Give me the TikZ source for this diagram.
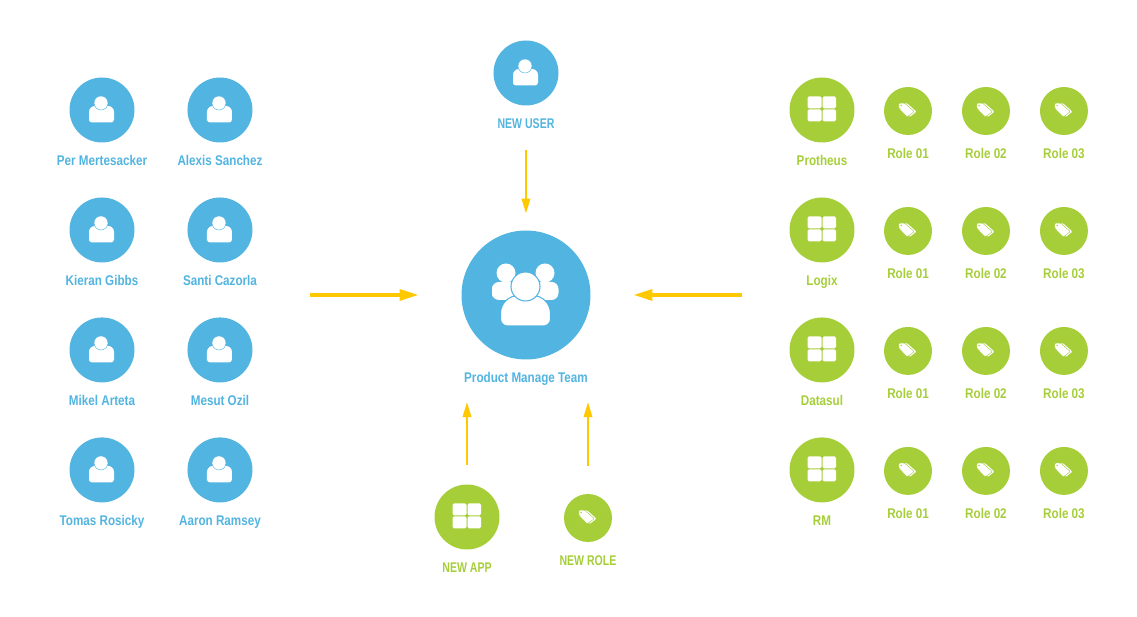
\documentclass[tikz,border=0pt]{standalone}
\usepackage{fontspec}
\setmainfont[FakeStretch=0.83]{Liberation Sans}
\newfontfamily\capsfont[FakeStretch=0.75]{Liberation Sans}
\usepackage{tikz}
\usetikzlibrary{arrows.meta, positioning}
\usepackage{xcolor}
\definecolor{userblue}{HTML}{52B4E0}
\definecolor{appgreen}{HTML}{A6CE39}
\definecolor{linkyellow}{HTML}{FFC800}

\begin{document}
\begin{tikzpicture}[
    x=0.02cm, y=-0.02cm,
    user/.style={circle, fill=userblue, inner sep=0pt, outer sep=0pt, minimum size=1.3cm, path picture={
        \begin{scope}[shift={(path picture bounding box.center)}]
            \fill[white, rounded corners=0.12cm] (-13,8) -- (-13,-4) -- (12,-4) [rounded corners=0.06cm] -- (12,12.5) -- (-13,12.5) -- cycle;
            \fill[white, draw=userblue, line width=0.25pt] (-1,-7) circle (7);
        \end{scope}}},
    team/.style={circle, fill=userblue, inner sep=0pt, outer sep=0pt, minimum size=2.58cm, path picture={
        \begin{scope}[shift={(path picture bounding box.center)}]
            \fill[white, rounded corners=0.14cm] (-34,-2) -- (-34,-13) -- (-5,-13) -- (-5,5) -- (-34,5) -- cycle;
            \fill[white, rounded corners=0.14cm] (5,-13) -- (32.5,-13) -- (32.5,5) -- (5,5) -- cycle;
            \fill[white] (-20,-22) circle (9.5);
            \fill[white] (19,-22) circle (9.5);
            \fill[white, draw=userblue, line width=0.6pt, rounded corners=0.36cm] (-25.5,18) -- (-25.5,0.5) -- (24.5,0.5) [rounded corners=0.14cm] -- (24.5,31) -- (-25.5,31) -- cycle;
            \fill[white, draw=userblue, line width=0.6pt] (-0.5,-8.5) circle (14.5);
        \end{scope}}},
    app/.style={circle, fill=appgreen, inner sep=0pt, outer sep=0pt, minimum size=1.3cm, path picture={
        \begin{scope}[shift={(path picture bounding box.center)}, rounded corners=0.03cm]
            \fill[white] (-14.5,-13.5) rectangle (-0.5,-1.5);
            \fill[white] (0.5,-13.5) rectangle (14,-1.5);
            \fill[white] (-14.5,-0.5) rectangle (-0.5,11.5);
            \fill[white] (0.5,-0.5) rectangle (14,11.5);
        \end{scope}}},
    role/.style={circle, fill=appgreen, inner sep=0pt, outer sep=0pt, minimum size=0.96cm, path picture={
        \begin{scope}[shift={(path picture bounding box.center)}, rounded corners=0.02cm]
            \fill[white] (-6.7,-7.7) -- (-1,-7.7) -- (8.5,0.7) -- (1.7,6) -- (-6.7,-2.7) -- cycle;
            \fill[white, draw=appgreen, line width=0.25pt] (-9.2,-7.9) -- (-3.5,-7.9) -- (6.4,0.7) -- (-0.8,6) -- (-9.2,-2.7) -- cycle;
            \fill[appgreen] (-6.8,-5.5) circle (0.8);
        \end{scope}}},
    usertext/.style={text=userblue, font=\bfseries\fontsize{8}{9}\selectfont, text height=7pt, text depth=1.5pt, inner sep=0pt},
    apptext/.style={text=appgreen, font=\bfseries\fontsize{8}{9}\selectfont, text height=7pt, text depth=1.5pt, inner sep=0pt},
    capitals/.style={font=\capsfont\bfseries\fontsize{8}{9}\selectfont},
    bigarrow/.style={-{Triangle[length=0.38cm, width=0.22cm]}, linkyellow, line width=0.07cm},
    arrow/.style={-{Triangle[length=0.3cm, width=0.17cm]}, linkyellow, line width=0.04cm}
]
\useasboundingbox (0,0) rectangle (1137,617);

% centre
\node[team] (pmt) at (526,295) {};
\node[usertext, below=0.2cm of pmt] (pmtlabel) {Product Manage Team};
\node[user] (newuser) at (526,73) {};
\node[usertext, capitals, below=0.2cm of newuser] (newuserlabel) {NEW USER};
\node[app] (newapp) at (467,517) {};
\node[apptext, capitals, below=0.2cm of newapp] (newapplabel) {NEW APP};
\node[role] (newrole) at (588,518) {};
\node[apptext, capitals, below=0.22cm of newrole] (newrolelabel) {NEW ROLE};

% users
\node[user] (per) at (102,110) {};
\node[usertext, below=0.2cm of per] (perlabel) {Per Mertesacker};
\node[user, right=1.06cm of per] (alexis) {};
\node[usertext, below=0.2cm of alexis] (alexislabel) {Alexis Sanchez};
\node[user, below=1.1cm of per] (kieran) {};
\node[usertext, below=0.2cm of kieran] (kieranlabel) {Kieran Gibbs};
\node[user, right=1.06cm of kieran] (santi) {};
\node[usertext, below=0.2cm of santi] (santilabel) {Santi Cazorla};
\node[user, below=1.1cm of kieran] (mikel) {};
\node[usertext, below=0.2cm of mikel] (mikellabel) {Mikel Arteta};
\node[user, right=1.06cm of mikel] (mesut) {};
\node[usertext, below=0.2cm of mesut] (mesutlabel) {Mesut Ozil};
\node[user, below=1.1cm of mikel] (tomas) {};
\node[usertext, below=0.2cm of tomas] (tomaslabel) {Tomas Rosicky};
\node[user, right=1.06cm of tomas] (aaron) {};
\node[usertext, below=0.2cm of aaron] (aaronlabel) {Aaron Ramsey};

% apps
\node[app] (protheus) at (822,110) {};
\node[apptext, below=0.2cm of protheus] (protheuslabel) {Protheus};
\node[app, below=1.1cm of protheus] (logix) {};
\node[apptext, below=0.2cm of logix] (logixlabel) {Logix};
\node[app, below=1.1cm of logix] (datasul) {};
\node[apptext, below=0.2cm of datasul] (datasullabel) {Datasul};
\node[app, below=1.1cm of datasul] (rm) {};
\node[apptext, below=0.2cm of rm] (rmlabel) {RM};

% roles
\node[role] (roleaa) at (908,111) {};
\node[apptext, below=0.22cm of roleaa] (roleaalabel) {Role 01};
\node[role, right=0.6cm of roleaa] (roleab) {};
\node[apptext, below=0.22cm of roleab] (roleablabel) {Role 02};
\node[role, right=0.6cm of roleab] (roleac) {};
\node[apptext, below=0.22cm of roleac] (roleaclabel) {Role 03};
\node[role, below=1.44cm of roleaa] (roleba) {};
\node[apptext, below=0.22cm of roleba] (rolebalabel) {Role 01};
\node[role, right=0.6cm of roleba] (rolebb) {};
\node[apptext, below=0.22cm of rolebb] (rolebblabel) {Role 02};
\node[role, right=0.6cm of rolebb] (rolebc) {};
\node[apptext, below=0.22cm of rolebc] (rolebclabel) {Role 03};
\node[role, below=1.44cm of roleba] (roleca) {};
\node[apptext, below=0.22cm of roleca] (rolecalabel) {Role 01};
\node[role, right=0.6cm of roleca] (rolecb) {};
\node[apptext, below=0.22cm of rolecb] (rolecblabel) {Role 02};
\node[role, right=0.6cm of rolecb] (rolecc) {};
\node[apptext, below=0.22cm of rolecc] (rolecclabel) {Role 03};
\node[role, below=1.44cm of roleca] (roleda) {};
\node[apptext, below=0.22cm of roleda] (roledalabel) {Role 01};
\node[role, right=0.6cm of roleda] (roledb) {};
\node[apptext, below=0.22cm of roledb] (roledblabel) {Role 02};
\node[role, right=0.6cm of roledb] (roledc) {};
\node[apptext, below=0.22cm of roledc] (roledclabel) {Role 03};

\coordinate (usersout) at (310,295);
\coordinate (appsout) at (742,295);

\draw[bigarrow, shorten >=0.86cm] (usersout) -- (pmt);
\draw[bigarrow, shorten >=0.86cm] (appsout) -- (pmt);
\draw[arrow, xshift=-0.02cm, shorten <=0.38cm, shorten >=0.34cm] (newuserlabel) -- (newuserlabel |- pmt.north);
\draw[arrow, shorten <=0.4cm, shorten >=0.34cm] (newapp) -- (newapp |- pmtlabel.south);
\draw[arrow, shorten <=0.56cm, shorten >=0.34cm] (newrole) -- (newrole |- pmtlabel.south);

\end{tikzpicture}
\end{document}
